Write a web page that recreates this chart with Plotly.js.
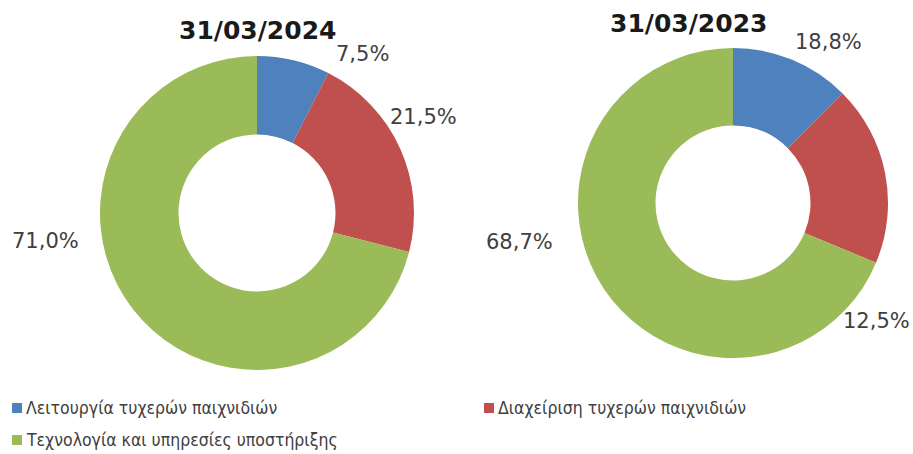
<!DOCTYPE html>
<html><head><meta charset="utf-8">
<script src="https://cdn.plot.ly/plotly-3.0.1.min.js"></script>
<style>html,body{margin:0;padding:0;background:#fff}</style>
</head><body><div id="chart" style="width:913px;height:454px"></div>
<script>
// ---- data ----
const categories = ["Λειτουργία τυχερών παιχνιδιών", "Διαχείριση τυχερών παιχνιδιών", "Τεχνολογία και υπηρεσίες υποστήριξης"];
const dates = ["31/03/2024", "31/03/2023"];
const values2024 = [7.5, 21.5, 71.0];
const values2023 = [12.5, 18.8, 68.7];
// data labels exactly as printed on the original chart
const labels2024 = ["7,5%", "21,5%", "71,0%"];
const labels2023 = ["18,8%", "12,5%", "68,7%"];
const colors = ["#4F81BD", "#C0504D", "#9BBB59"];

// ---- layout helpers ----
const W = 913, H = 454;
const px = x => x / W;
const py = y => 1 - y / H;

function pie(values, cx, cy, r) {
  return {
    type: "pie",
    values: values,
    labels: categories,
    sort: false,
    direction: "clockwise",
    rotation: 0,
    hole: 0.5,
    textinfo: "none",
    hoverinfo: "skip",
    showlegend: false,
    marker: { colors: colors, line: { width: 0 } },
    domain: { x: [px(cx - r), px(cx + r)], y: [py(cy + r), py(cy - r)] }
  };
}

const data = [pie(values2024, 257, 213, 157), pie(values2023, 733, 203, 155)];

const labelFont = { family: "DejaVu Sans, Verdana, sans-serif", size: 21, color: "#404040" };
const titleFont = { family: "DejaVu Sans, Verdana, sans-serif", size: 25, color: "#1a1a1a", weight: "bold" };
const legendFont = { family: "DejaVu Sans Condensed, DejaVu Sans, sans-serif", size: 17.5, color: "#404040" };

const annotations = [];
function ann(text, x, y, font, xanchor) {
  annotations.push({ text: text, x: px(x), y: py(y), xref: "paper", yref: "paper",
    xanchor: xanchor || "center", yanchor: "middle", showarrow: false, font: font });
}
ann("<b>" + dates[0] + "</b>", 257, 31, titleFont);
ann("<b>" + dates[1] + "</b>", 688, 24, titleFont);

const pos2024 = [[362, 54], [423, 117], [45, 241]];
labels2024.forEach((t, i) => ann(t, pos2024[i][0], pos2024[i][1], labelFont));
const pos2023 = [[828, 42], [876, 321], [519, 242]];
labels2023.forEach((t, i) => ann(t, pos2023[i][0], pos2023[i][1], labelFont));

// legend (drawn manually to match compact spacing)
const legPos = [[17, 408], [489, 408], [17, 440]];
const shapes = [];
categories.forEach((c, i) => {
  const [x, y] = legPos[i];
  shapes.push({ type: "rect", xref: "paper", yref: "paper",
    x0: px(x - 5), x1: px(x + 5), y0: py(y + 5), y1: py(y - 5),
    fillcolor: colors[i], line: { width: 0 } });
  ann(c, x + 7, y, legendFont, "left");
});

const layout = {
  width: W, height: H,
  margin: { l: 0, r: 0, t: 0, b: 0 },
  paper_bgcolor: "#ffffff",
  plot_bgcolor: "#ffffff",
  showlegend: false,
  annotations: annotations,
  shapes: shapes
};

Plotly.newPlot("chart", data, layout, { displayModeBar: false, staticPlot: true });
</script>
</body></html>
